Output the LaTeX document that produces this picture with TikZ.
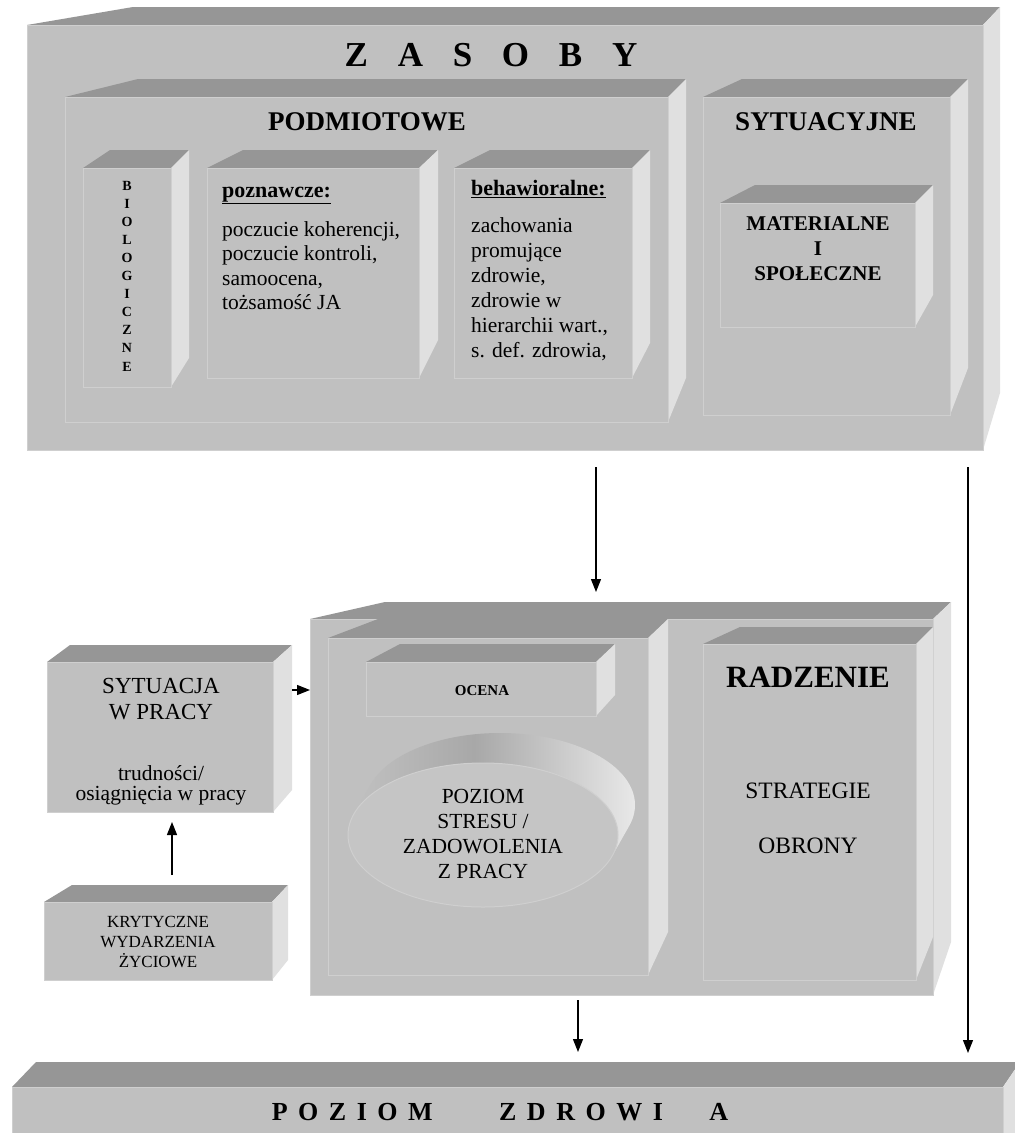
\documentclass[tikz,border=0pt]{standalone}
\usepackage{fontspec}
\setmainfont{Liberation Serif}
\usetikzlibrary{arrows.meta,fit,shapes.geometric}
\definecolor{frontc}{HTML}{C0C0C0}
\definecolor{topc}{HTML}{969696}
\definecolor{sidec}{HTML}{E0E0E0}
\definecolor{edgec}{HTML}{CFCFCF}
\definecolor{ellfront}{HTML}{C5C5C5}
\definecolor{discA}{HTML}{C2C2C2}
\definecolor{discB}{HTML}{A8A8A8}
\definecolor{discC}{HTML}{E8E8E8}
\pgfdeclarehorizontalshading{discshade}{100bp}{color(0bp)=(discA); color(25bp)=(discA); color(47bp)=(discB); color(75bp)=(discC); color(100bp)=(discC)}
\newcommand\setfs[2]{\fontsize{#1pt}{#2pt}\selectfont}
\newcommand\mlines[2]{\begin{tabular}[t]{@{}#1@{}}#2\end{tabular}}
% name, x1, y1, x2, y2 (front face), back-left x, back-right x, back top y, back bottom y
\newcommand\solidbox[9]{%
  \fill[topc] (#2,#3) -- (#6,#8) -- (#7,#8) -- (#4,#3) -- cycle;
  \fill[sidec] (#4,#3) -- (#7,#8) -- (#7,#9) -- (#4,#5) -- cycle;
  \node[frontbox, fit={(#2,#3) (#4,#5)}] (#1) {};
}
\begin{document}
\begin{tikzpicture}[x=1pt,y=-1pt,
  frontbox/.style={inner sep=0pt, fill=frontc, draw=edgec, line width=1pt},
  lbl/.style={inner sep=0pt, anchor=base},
  lblw/.style={inner sep=0pt, anchor=base west},
  arr/.style={line width=1.3pt, -{Triangle[length=13pt,width=10pt]}}]
\useasboundingbox (0,0) rectangle (1015,1133);
\fill[white] (0,0) rectangle (1015,1133);

% ZASOBY block
\solidbox{zasoby}{27}{25}{983}{450}{133}{1000}{7}{393}
\solidbox{podm}{65}{97}{668}{422}{138}{686}{79}{378}
\solidbox{sytuac}{703}{97}{950}{415}{742}{968}{79}{368}
\solidbox{bio}{83}{168}{171}{387}{110}{189}{150}{358}
\solidbox{pozn}{207}{168}{419}{378}{243}{438}{150}{340}
\solidbox{behaw}{454}{168}{632}{378}{490}{650}{150}{343}
\solidbox{mater}{720}{203}{915}{327}{755}{933}{185}{295}

% middle block
\solidbox{middle}{310}{619}{933}{995}{385}{951}{602}{942}
\solidbox{inner}{328}{638}{648}{975}{378}{668}{619}{932}
\solidbox{radz}{703}{644}{916}{980}{740}{933}{627}{937}
\solidbox{ocena}{366}{662}{596}{716}{400}{615}{644}{695}

% left boxes
\solidbox{sytpr}{47}{662}{273}{812}{70}{292}{645}{790}
\solidbox{kryt}{44}{902}{272}{980}{72}{288}{885}{960}

% bottom bar
\solidbox{zdrowie}{12}{1087}{1003}{1150}{36}{1020}{1062}{1150}

% ellipse (disc)
\shade[shading=discshade]
  (483,835) ellipse [x radius=135, y radius=72]
  foreach \i in {1,...,30} { ({483+17*\i/30},{835-30*\i/30}) ellipse [x radius=135, y radius=72] };
\node[ellipse, fill=ellfront, draw=edgec, line width=1pt, minimum width=270pt, minimum height=144pt, inner sep=0pt] (stress) at (483,835) {};

% texts
\node[lbl, font=\setfs{35}{42}\bfseries] (tzas) at (491,66) {Z \hspace{21pt}A \hspace{21pt}S \hspace{21pt}O \hspace{21pt}B \hspace{21pt}Y};
\node[lbl, font=\setfs{27}{32}\bfseries] (tpodm) at (367,130) {PODMIOTOWE};
\node[lbl, font=\setfs{27}{32}\bfseries] (tsyt) at (826,130) {SYTUACYJNE};
\node[lbl, font=\setfs{14}{18.1}\bfseries] (tbio) at (127,190) {\mlines{c}{B\\I\\O\\L\\O\\G\\I\\C\\Z\\N\\E}};
\node[lblw, font=\setfs{22}{26}\bfseries] (tpoznh) at (222,197) {\underline{poznawcze:}};
\node[lblw, font=\setfs{21.5}{24.6}] (tpozn) at (222,236) {\mlines{l}{poczucie koherencji,\\poczucie kontroli,\\samoocena,\\tożsamość JA}};
\node[lblw, font=\setfs{22}{26}\bfseries] (tbehh) at (471,195) {\underline{behawioralne:}};
\node[lblw, font=\setfs{21.5}{25}] (tbeh) at (471,232) {\mlines{l}{zachowania\\promujące\\zdrowie,\\zdrowie w\\hierarchii wart.,\\s. def. zdrowia,}};
\node[lbl, font=\setfs{21}{25}\bfseries] (tmat) at (818,230) {\mlines{c}{MATERIALNE\\I\\SPOŁECZNE}};
\node[lbl, font=\setfs{15}{18}\bfseries] (tocena) at (482,695) {OCENA};
\node[lbl, font=\setfs{21.5}{25}] (tstres) at (483,803) {\mlines{c}{POZIOM\\STRESU /\\ZADOWOLENIA\\Z PRACY}};
\node[lbl, font=\setfs{23}{26}] (tsytpr) at (161,693) {\mlines{c}{SYTUACJA\\W PRACY}};
\node[lbl, font=\setfs{21.5}{20}] (ttrud) at (161,780) {\mlines{c}{trudności/\\osiągnięcia w pracy}};
\node[lbl, font=\setfs{17}{20}] (tkryt) at (158,927) {\mlines{c}{KRYTYCZNE\\WYDARZENIA\\ŻYCIOWE}};
\node[lbl, font=\setfs{31}{36}\bfseries] (tradz) at (808,687) {RADZENIE};
\node[lbl, font=\setfs{23.5}{55}] (tstrat) at (808,798) {\mlines{c}{STRATEGIE\\OBRONY}};
\node[lbl, font=\setfs{26}{30}\bfseries] (tzdr) at (500,1120) {P \hspace{4pt}O \hspace{4pt}Z \hspace{4pt}I \hspace{4pt}O \hspace{4pt}M \hspace{60pt}Z \hspace{4pt}D \hspace{4pt}R \hspace{4pt}O \hspace{4pt}W \hspace{4pt}I \hspace{40pt}A};

% connectors
\coordinate (z1) at (596,467); \coordinate (z2) at (596,592);
\coordinate (r1) at (968,467); \coordinate (r2) at (968,1053);
\coordinate (m1) at (578,1000); \coordinate (m2) at (578,1052);
\coordinate (s1) at (292,690); \coordinate (s2) at (310,690);
\coordinate (k1) at (172,875); \coordinate (k2) at (172,822);
\draw[arr] (z1) -- (z2);
\draw[arr] (r1) -- (r2);
\draw[arr] (m1) -- (m2);
\draw[arr] (s1) -- (s2);
\draw[arr] (k1) -- (k2);
\end{tikzpicture}
\end{document}
